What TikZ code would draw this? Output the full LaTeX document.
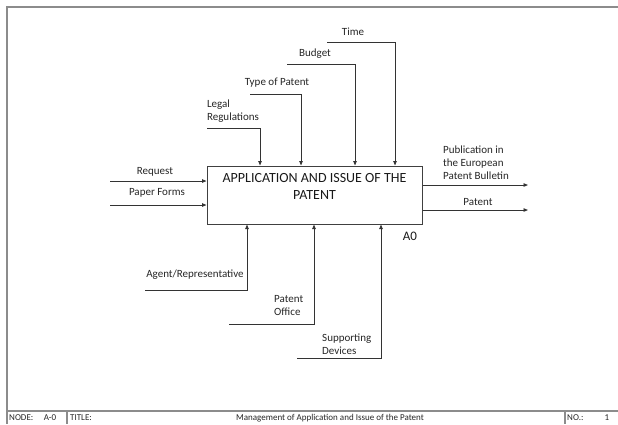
\documentclass[tikz,border=0pt]{standalone}
\usepackage{fontspec}
\setmainfont{Carlito}
\usetikzlibrary{arrows.meta}
\begin{document}
\begin{tikzpicture}[x=1pt,y=-1pt,>={Triangle[length=4.5pt,width=3.5pt]},
  flow/.style={->,line width=0.9pt,draw=black!80},
  lbl/.style={font=\fontsize{11}{13}\selectfont,text=black!85,inner sep=0pt},
  foot/.style={font=\fontsize{9}{10}\selectfont,text=black!85,inner sep=0pt},
  frame/.style={line width=1.2pt,draw=black!45}]
\useasboundingbox (0,0) rectangle (618,424);
% sheet frame and footer
\draw[frame] (618,7) -- (7,7) -- (7,424);
\draw[frame] (7,411) -- (618,411);
\draw[frame] (67,411) -- (67,424);
\draw[frame] (565,411) -- (565,424);
\node[foot,anchor=west] (nodekey) at (9,418) {NODE:};
\node[foot] (nodeval) at (50,418) {A-0};
\node[foot,anchor=west] (titlekey) at (70,418) {TITLE:};
\node[foot] (titleval) at (330,418) {Management of Application and Issue of the Patent};
\node[foot,anchor=west] (nokey) at (567,418) {NO.:};
\node[foot] (noval) at (607,418) {1};
% activity box
\node[draw=black!75,line width=1pt,minimum width=215pt,minimum height=58pt] (box) at (314.5,195) {};
\node[font=\fontsize{14}{17}\selectfont,text=black!90,align=center,anchor=north,inner sep=0pt] (boxtitle) at ([yshift=-8pt]box.north) {APPLICATION AND ISSUE OF THE\\PATENT};
\node[font=\fontsize{13}{15}\selectfont,text=black!90,inner sep=0pt] (boxnum) at (410,236) {A0};
% inputs
\coordinate (req) at (110,181);
\coordinate (forms) at (110,205);
\draw[flow] (req) -- (req -| box.west);
\draw[flow] (forms) -- (forms -| box.west);
\node[lbl] (reqlbl) at (155,172) {Request};
\node[lbl] (formslbl) at (157,193) {Paper Forms};
% controls
\coordinate (legal) at (207,128);
\coordinate (type) at (250,94);
\coordinate (budget) at (287,64);
\coordinate (time) at (327,42);
\draw[flow] (legal) -| (260,0 |- box.north);
\draw[flow] (type) -| (301,0 |- box.north);
\draw[flow] (budget) -| (355,0 |- box.north);
\draw[flow] (time) -| (395,0 |- box.north);
\node[lbl,align=left] (legallbl) at (233,111.5) {Legal\\Regulations};
\node[lbl] (typelbl) at (277,83) {Type of Patent};
\node[lbl] (budgetlbl) at (315,54) {Budget};
\node[lbl] (timelbl) at (353,32) {Time};
% outputs
\coordinate (pub) at (528,185);
\coordinate (pat) at (528,210);
\draw[flow] (pub -| box.east) -- (pub);
\draw[flow] (pat -| box.east) -- (pat);
\node[lbl,align=left,anchor=west] (publbl) at (443,162.5) {Publication in\\the European\\Patent Bulletin};
\node[lbl] (patlbl) at (478,202) {Patent};
% mechanisms
\coordinate (agent) at (145,290);
\coordinate (office) at (229,324);
\coordinate (devices) at (297,358);
\draw[flow] (agent) -| (247,0 |- box.south);
\draw[flow] (office) -| (314,0 |- box.south);
\draw[flow] (devices) -| (381,0 |- box.south);
\node[lbl] (agentlbl) at (195,275) {Agent/Representative};
\node[lbl,align=left,anchor=west] (officelbl) at (274,305.5) {Patent\\Office};
\node[lbl,align=left,anchor=west] (deviceslbl) at (322,344.5) {Supporting\\Devices};
\end{tikzpicture}
\end{document}
